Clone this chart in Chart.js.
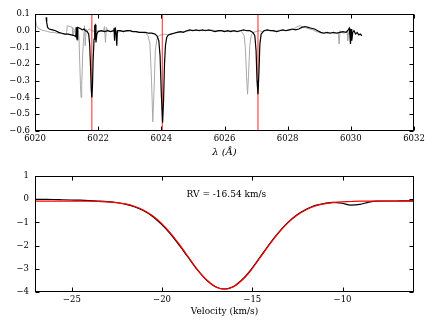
<!DOCTYPE html>
<html><head><meta charset="utf-8">
<script src="https://cdn.jsdelivr.net/npm/chart.js@4/dist/chart.umd.min.js"></script>
<style>
html,body{margin:0;padding:0;background:#fff;width:436px;height:327px;overflow:hidden}
canvas{position:absolute;left:0}
#c1{top:0}
#c2{top:165px}
</style></head>
<body>
<canvas id="c1" width="436" height="165"></canvas>
<canvas id="c2" width="436" height="162"></canvas>
<script>
// ---------- DATA ----------
const topXTicks = [6020, 6022, 6024, 6026, 6028, 6030, 6032];
const topYTicks = [0.1, 0.0, -0.1, -0.2, -0.3, -0.4, -0.5, -0.6];
const bottomXTicks = [-25, -20, -15, -10];
const bottomYTicks = [1, 0, -1, -2, -3, -4];
const topXLabel = "λ (Å)";
const bottomXLabel = "Velocity (km/s)";
const rvLabel = "RV = -16.54 km/s";
const rvLabelPos = [-18.64, 0.2];          // data coords (left, middle)
const velRange = [-27.04, -6.04];

const lineMarkers = [6021.80, 6024.03, 6027.06];   // red vertical lines

// observed spectrum (black): [wavelength, flux]
const obsSpectrum = [[6020.35,0.08],[6020.37,0.05],[6020.40,0.02],[6020.45,0.01],[6020.55,0.005],[6020.65,0.0],[6020.75,-0.01],[6020.85,-0.015],[6020.95,-0.02],[6021.05,-0.02],[6021.15,-0.025],[6021.25,-0.03],[6021.29,-0.035],[6021.31,0.02],[6021.33,-0.05],[6021.35,0.02],[6021.42,0.015],[6021.50,0.005],[6021.55,0.01],[6021.60,0.0],[6021.65,-0.005],[6021.70,-0.02],[6021.73,-0.08],[6021.76,-0.22],[6021.78,-0.35],[6021.80,-0.40],[6021.82,-0.33],[6021.84,-0.18],[6021.87,-0.05],[6021.89,0.03],[6021.91,0.035],[6021.93,-0.07],[6021.96,-0.02],[6022.00,-0.005],[6022.10,0.0],[6022.20,-0.005],[6022.30,0.0],[6022.40,-0.005],[6022.48,0.0],[6022.50,0.015],[6022.52,-0.06],[6022.54,0.02],[6022.57,-0.02],[6022.59,-0.09],[6022.61,0.0],[6022.70,0.0],[6022.80,-0.005],[6022.90,0.0],[6023.00,0.0],[6023.10,-0.005],[6023.20,-0.005],[6023.30,-0.01],[6023.40,-0.01],[6023.50,-0.01],[6023.60,-0.015],[6023.70,-0.015],[6023.80,-0.02],[6023.86,-0.03],[6023.92,-0.06],[6023.96,-0.15],[6024.00,-0.38],[6024.04,-0.55],[6024.07,-0.42],[6024.10,-0.20],[6024.13,-0.09],[6024.17,-0.04],[6024.22,-0.025],[6024.30,-0.02],[6024.40,-0.015],[6024.50,-0.01],[6024.60,-0.005],[6024.70,-0.01],[6024.80,0.0],[6024.90,0.005],[6025.00,0.0],[6025.10,0.005],[6025.20,0.0],[6025.30,0.005],[6025.40,0.0],[6025.50,0.005],[6025.60,0.0],[6025.70,-0.005],[6025.80,0.0],[6025.90,0.0],[6026.00,-0.005],[6026.10,0.0],[6026.20,-0.005],[6026.30,0.0],[6026.40,-0.005],[6026.50,0.0],[6026.60,0.005],[6026.70,0.0],[6026.80,0.0],[6026.90,-0.01],[6026.96,-0.03],[6027.00,-0.12],[6027.03,-0.30],[6027.06,-0.38],[6027.09,-0.25],[6027.12,-0.08],[6027.16,-0.02],[6027.25,0.0],[6027.35,0.005],[6027.45,0.0],[6027.55,0.0],[6027.65,-0.005],[6027.75,0.0],[6027.85,0.005],[6027.95,0.0],[6028.05,0.005],[6028.15,0.01],[6028.25,0.005],[6028.35,0.01],[6028.45,0.02],[6028.55,0.025],[6028.65,0.02],[6028.75,0.015],[6028.85,0.01],[6028.95,0.0],[6029.05,-0.01],[6029.15,-0.015],[6029.25,-0.01],[6029.35,-0.015],[6029.45,-0.01],[6029.55,-0.015],[6029.65,-0.01],[6029.75,-0.005],[6029.85,-0.01],[6029.90,0.0],[6029.95,0.015],[6029.97,-0.03],[6029.99,-0.08],[6030.01,0.01],[6030.03,-0.06],[6030.06,-0.01],[6030.10,0.0],[6030.15,-0.02],[6030.20,-0.01],[6030.25,-0.025],[6030.30,-0.02],[6030.35,-0.03]];

// template spectrum (grey): [wavelength, flux]
const tmplSpectrum = [[6020.00,0.10],[6020.02,0.06],[6020.05,0.03],[6020.10,0.015],[6020.20,0.005],[6020.30,0.0],[6020.40,-0.005],[6020.50,-0.01],[6020.60,-0.01],[6020.70,-0.015],[6020.80,-0.015],[6020.90,-0.02],[6021.00,-0.02],[6021.02,0.03],[6021.10,0.025],[6021.18,0.02],[6021.20,-0.03],[6021.25,0.0],[6021.30,0.02],[6021.33,-0.06],[6021.36,0.01],[6021.39,-0.03],[6021.41,-0.15],[6021.44,-0.33],[6021.46,-0.40],[6021.48,-0.32],[6021.51,-0.14],[6021.54,-0.04],[6021.57,0.03],[6021.59,-0.09],[6021.62,0.01],[6021.66,0.0],[6021.72,0.01],[6021.80,0.0],[6021.90,-0.005],[6022.00,0.0],[6022.10,-0.005],[6022.17,0.0],[6022.20,0.025],[6022.23,-0.07],[6022.26,0.02],[6022.30,0.0],[6022.40,-0.005],[6022.50,0.0],[6022.60,-0.01],[6022.70,-0.005],[6022.80,0.0],[6022.90,-0.005],[6023.00,0.0],[6023.10,-0.005],[6023.20,-0.005],[6023.30,-0.01],[6023.40,-0.01],[6023.50,-0.015],[6023.58,-0.03],[6023.64,-0.08],[6023.69,-0.30],[6023.73,-0.545],[6023.77,-0.35],[6023.81,-0.12],[6023.86,-0.05],[6023.92,-0.03],[6024.00,-0.025],[6024.10,-0.02],[6024.20,-0.025],[6024.30,-0.02],[6024.40,-0.015],[6024.50,-0.01],[6024.60,-0.01],[6024.70,-0.005],[6024.80,-0.005],[6024.90,0.0],[6025.00,0.005],[6025.10,0.0],[6025.20,0.005],[6025.30,0.0],[6025.40,0.005],[6025.50,0.0],[6025.60,0.005],[6025.70,0.0],[6025.80,-0.005],[6025.90,0.0],[6026.00,0.0],[6026.10,-0.005],[6026.20,0.0],[6026.30,0.0],[6026.40,-0.005],[6026.50,0.0],[6026.56,-0.01],[6026.62,-0.03],[6026.66,-0.10],[6026.70,-0.28],[6026.73,-0.38],[6026.76,-0.27],[6026.80,-0.09],[6026.85,-0.025],[6026.92,-0.01],[6027.00,-0.005],[6027.10,0.0],[6027.20,-0.005],[6027.30,0.0],[6027.40,0.005],[6027.50,0.0],[6027.60,-0.005],[6027.70,0.0],[6027.80,0.005],[6027.90,0.0],[6028.00,0.005],[6028.10,0.005],[6028.20,0.01],[6028.30,0.025],[6028.40,0.03],[6028.50,0.02],[6028.60,0.015],[6028.70,0.01],[6028.80,0.005],[6028.90,-0.005],[6029.00,-0.01],[6029.10,-0.015],[6029.20,-0.01],[6029.30,-0.015],[6029.40,-0.01],[6029.50,-0.015],[6029.60,-0.01],[6029.63,-0.08],[6029.66,0.0],[6029.70,-0.01],[6029.80,-0.015],[6029.88,0.0],[6029.90,-0.06],[6029.93,-0.01],[6029.97,-0.015],[6030.03,-0.02]];

// cross-correlation (bottom panel)
const velocity = [-27.04,-26.54,-26.04,-25.54,-25.04,-24.54,-24.04,-23.54,-23.04,-22.54,-22.04,-21.54,-21.04,-20.54,-20.04,-19.54,-19.04,-18.54,-18.04,-17.54,-17.04,-16.54,-16.04,-15.54,-15.04,-14.54,-14.04,-13.54,-13.04,-12.54,-12.04,-11.54,-11.04,-10.54,-10.04,-9.54,-9.04,-8.54,-8.04,-7.54,-7.04,-6.54,-6.04];
const ccf = [0.0,-0.005,-0.01,-0.02,-0.03,-0.04,-0.055,-0.075,-0.10,-0.14,-0.21,-0.32,-0.48,-0.73,-1.07,-1.49,-1.99,-2.52,-3.05,-3.48,-3.77,-3.87,-3.76,-3.45,-3.00,-2.46,-1.92,-1.43,-1.01,-0.68,-0.44,-0.27,-0.19,-0.13,-0.17,-0.25,-0.22,-0.12,-0.08,-0.075,-0.075,-0.07,-0.07];
const ccfFit = [-0.08,-0.08,-0.08,-0.08,-0.08,-0.08,-0.08,-0.095,-0.11,-0.144,-0.20,-0.30,-0.46,-0.70,-1.03,-1.45,-1.95,-2.49,-3.03,-3.47,-3.77,-3.88,-3.77,-3.47,-3.03,-2.49,-1.95,-1.45,-1.03,-0.70,-0.46,-0.30,-0.20,-0.144,-0.11,-0.095,-0.08,-0.08,-0.08,-0.08,-0.08,-0.08,-0.08];

// ---------- RENDERING ----------
const FONT = "'DejaVu Serif', serif";
const fmtMinus = v => String(v).replace('-', '\u2212');

const frameTicks = {
  id: 'frameTicks',
  afterDraw(chart, args, opts) {
    const {ctx, chartArea: a, scales: {x, y}} = chart;
    ctx.save();
    ctx.strokeStyle = '#000';
    ctx.lineWidth = 1;
    const L = Math.round(a.left) + 0.5, R = Math.round(a.right) - 0.5;
    const T = Math.round(a.top) + 0.5, B = Math.round(a.bottom) - 0.5;
    ctx.beginPath();
    x.ticks.forEach(t => {
      const px = Math.round(x.getPixelForValue(t.value)) + 0.5;
      ctx.moveTo(px, B); ctx.lineTo(px, B - 4);
      ctx.moveTo(px, T); ctx.lineTo(px, T + 4);
    });
    y.ticks.forEach(t => {
      const py = Math.round(y.getPixelForValue(t.value)) + 0.5;
      ctx.moveTo(L, py); ctx.lineTo(L + 4, py);
      ctx.moveTo(R, py); ctx.lineTo(R - 4, py);
    });
    ctx.stroke();
    ctx.strokeRect(L, T, R - L, B - T);
    if (opts && opts.text) {
      ctx.fillStyle = '#000';
      ctx.font = "9px " + FONT;
      ctx.textAlign = 'left';
      ctx.textBaseline = 'middle';
      ctx.fillText(opts.text, x.getPixelForValue(opts.pos[0]), y.getPixelForValue(opts.pos[1]));
    }
    ctx.restore();
  }
};

function axisCommon(ticksArr, fmt, extra) {
  return Object.assign({
    type: 'linear',
    min: Math.min(...ticksArr),
    max: Math.max(...ticksArr),
    grid: {display: false, drawTicks: false},
    border: {display: false},
    afterBuildTicks: s => { s.ticks = ticksArr.map(v => ({value: v})); },
    ticks: {color: '#000', font: {family: FONT, size: 8.5}, callback: v => fmt(v), maxRotation: 0, autoSkip: false}
  }, extra);
}

const topYMin = Math.min(...topYTicks), topYMax = Math.max(...topYTicks);

const markerSets = lineMarkers.map(w => ({
  data: [{x: w, y: topYMin}, {x: w, y: topYMax}],
  borderColor: 'rgba(255,0,0,0.85)', borderWidth: 1, pointRadius: 0, order: 1
}));

new Chart(document.getElementById('c1'), {
  type: 'line',
  data: {datasets: [
    {data: obsSpectrum.map(p => ({x: p[0], y: p[1]})), borderColor: '#000', borderWidth: 1.2, pointRadius: 0, tension: 0, order: 0},
    ...markerSets,
    {data: tmplSpectrum.map(p => ({x: p[0], y: p[1]})), borderColor: '#a8a8a8', borderWidth: 1, pointRadius: 0, tension: 0, order: 2}
  ]},
  options: {
    responsive: false, animation: false, devicePixelRatio: 1,
    layout: {padding: {left: 0, right: 22, top: 14, bottom: 0}},
    plugins: {legend: {display: false}, tooltip: {enabled: false}, frameTicks: {}},
    scales: {
      x: axisCommon(topXTicks, v => String(v), {
        ticks: {color: '#000', font: {family: FONT, size: 8.5}, padding: 3, maxRotation: 0, autoSkip: false, callback: v => String(v)},
        title: {display: true, text: topXLabel, color: '#000', font: {family: FONT, size: 10, style: 'italic'}, padding: {top: 0, bottom: 7}},
        afterFit: s => { s.height = 34; }
      }),
      y: axisCommon(topYTicks, v => fmtMinus(v.toFixed(1)), {
        afterFit: s => { s.width = 35; }
      })
    }
  },
  plugins: [frameTicks]
});
Chart.getChart('c1').options.scales.y.ticks.padding = 5;
Chart.getChart('c1').update();

new Chart(document.getElementById('c2'), {
  type: 'line',
  data: {datasets: [
    {data: velocity.map((v, i) => ({x: v, y: ccfFit[i]})), borderColor: '#ff0000', borderWidth: 1.2, pointRadius: 0, cubicInterpolationMode: 'monotone', order: 0},
    {data: velocity.map((v, i) => ({x: v, y: ccf[i]})), borderColor: '#000', borderWidth: 1.2, pointRadius: 0, cubicInterpolationMode: 'monotone', order: 1}
  ]},
  options: {
    responsive: false, animation: false, devicePixelRatio: 1,
    layout: {padding: {left: 0, right: 22, top: 11, bottom: 0}},
    plugins: {legend: {display: false}, tooltip: {enabled: false}, frameTicks: {text: rvLabel, pos: rvLabelPos}},
    scales: {
      x: Object.assign(axisCommon(bottomXTicks, v => fmtMinus(v), {
        title: {display: true, text: bottomXLabel, color: '#000', font: {family: FONT, size: 9}, padding: {top: 0, bottom: 10}},
        afterFit: s => { s.height = 35; }
      }), {min: velRange[0], max: velRange[1]}),
      y: axisCommon(bottomYTicks, v => fmtMinus(v), {
        afterFit: s => { s.width = 35; }
      })
    }
  },
  plugins: [frameTicks]
});
Chart.getChart('c2').options.scales.y.ticks.padding = 6;
Chart.getChart('c2').options.scales.x.ticks.padding = 3;
Chart.getChart('c2').update();
</script>
</body></html>
